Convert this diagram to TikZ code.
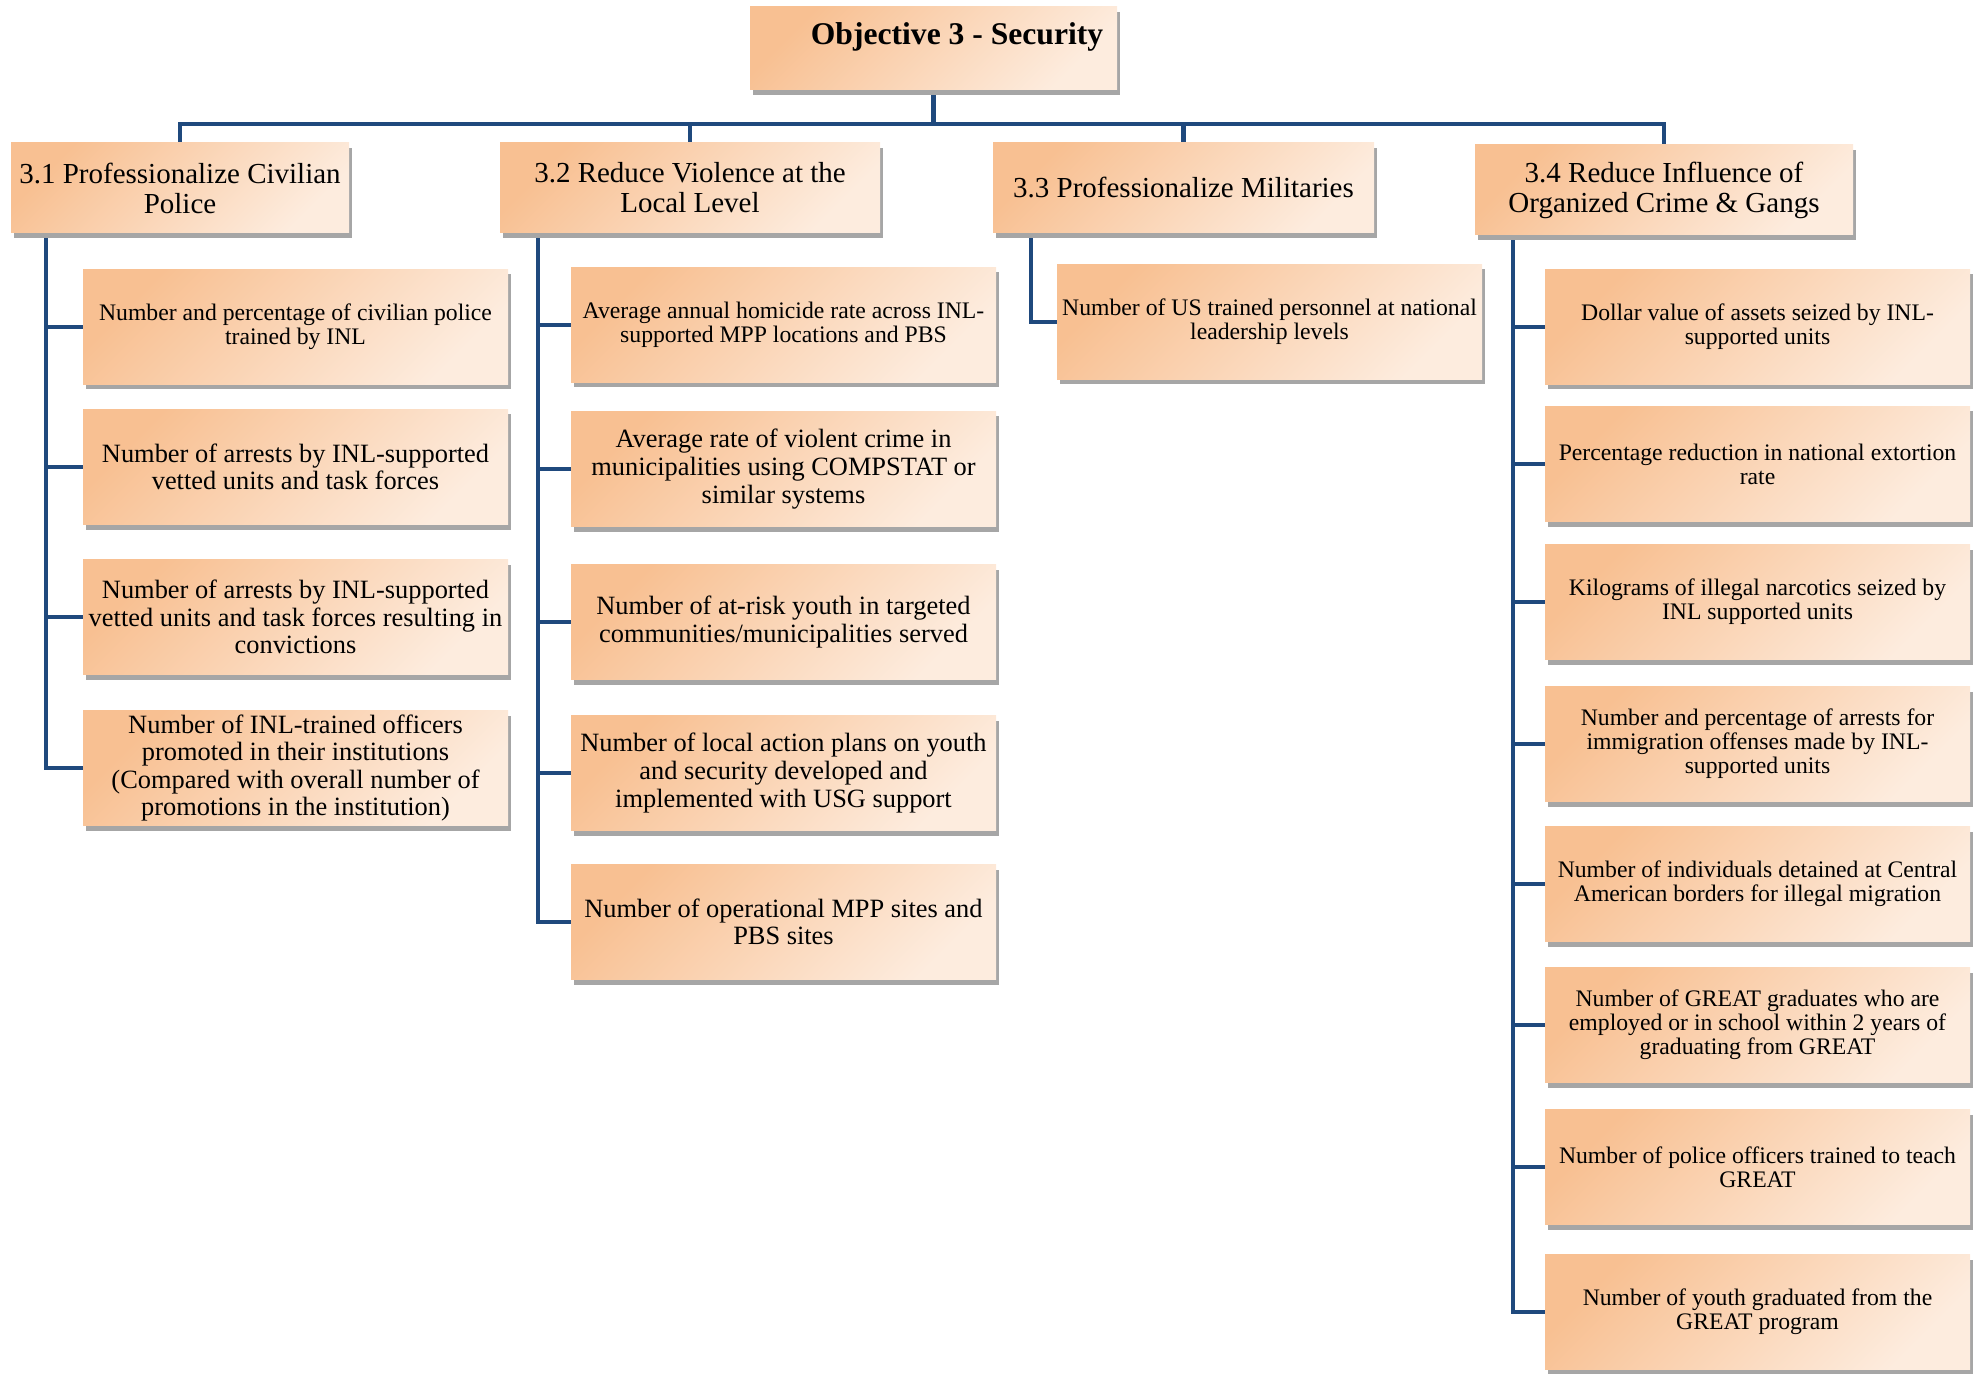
\documentclass[tikz,border=0pt]{standalone}
\usepackage{fontspec}
\setmainfont{Liberation Serif}
\usetikzlibrary{shadows,backgrounds}
\definecolor{boxA}{RGB}{248,192,146}
\definecolor{boxB}{RGB}{253,236,222}
\definecolor{linec}{RGB}{31,73,125}
\begin{document}
\begin{tikzpicture}[x=0.5pt,y=-0.5pt,
  box/.style={top color=boxA,bottom color=boxB,shading angle=45,draw=none,inner sep=0pt,align=center,
    drop shadow={shadow xshift=1.5pt,shadow yshift=-2.5pt,fill=black!35,opacity=1}},
  lvl/.style={box,minimum height=45pt,font=\fontsize{14.5}{15}\selectfont},
  kid/.style={box,minimum width=212.5pt,minimum height=57.5pt},
  small/.style={font=\fontsize{11.85}{12}\selectfont},
  large/.style={font=\fontsize{13.2}{13.8}\selectfont},
  conn/.style={draw=linec,line width=2.25pt,line join=miter}]
\useasboundingbox (0,0) rectangle (1980,1374);

% top
\node[box,minimum width=183.5pt,minimum height=41.5pt] (top) at (933.5,48.5) {};
\node[anchor=base,font=\fontsize{15.8}{18}\selectfont\bfseries] (toptext) at (957,45) {Objective 3 - Security};

% level 2
\node[lvl,minimum width=169pt] (a) at (180,188) {3.1 Professionalize Civilian\\Police};
\node[lvl,minimum width=190pt] (b) at (690,188) {3.2 Reduce Violence at the\\Local Level};
\node[lvl,minimum width=190.5pt] (c) at (1183.5,188) {3.3 Professionalize Militaries};
\node[lvl,minimum width=189pt] (d) at (1664,190) {3.4 Reduce Influence of\\Organized Crime \& Gangs};

% column 1
\node[kid,small] (a1) at (295.5,327) {Number and percentage of civilian police\\trained by INL};
\node[kid,large] (a2) at (295.5,467) {Number of arrests by INL-supported\\vetted units and task forces};
\node[kid,large] (a3) at (295.5,617) {Number of arrests by INL-supported\\vetted units and task forces resulting in\\convictions};
\node[kid,large] (a4) at (295.5,768) {Number of INL-trained officers\\promoted in their institutions\\(Compared with overall number of\\promotions in the institution)};

% column 2
\node[kid,small] (b1) at (783.5,325) {Average annual homicide rate across INL-\\supported MPP locations and PBS};
\node[kid,large] (b2) at (783.5,469) {Average rate of violent crime in\\municipalities using COMPSTAT or\\similar systems};
\node[kid,large] (b3) at (783.5,622) {Number of at-risk youth in targeted\\communities/municipalities served};
\node[kid,large] (b4) at (783.5,773) {Number of local action plans on youth\\and security developed and\\implemented with USG support};
\node[kid,large] (b5) at (783.5,922) {Number of operational MPP sites and\\PBS sites};

% column 3
\node[kid,small] (c1) at (1269.5,322) {Number of US trained personnel at national\\leadership levels};

% column 4
\node[kid,small] (d1) at (1757.5,327) {Dollar value of assets seized by INL-\\supported units};
\node[kid,small] (d2) at (1757.5,464) {Percentage reduction in national extortion\\rate};
\node[kid,small] (d3) at (1757.5,602) {Kilograms of illegal narcotics seized by\\INL supported units};
\node[kid,small] (d4) at (1757.5,744) {Number and percentage of arrests for\\immigration offenses made by INL-\\supported units};
\node[kid,small] (d5) at (1757.5,884) {Number of individuals detained at Central\\American borders for illegal migration};
\node[kid,small] (d6) at (1757.5,1025) {Number of GREAT graduates who are\\employed or in school within 2 years of\\graduating from GREAT};
\node[kid,small] (d7) at (1757.5,1167) {Number of police officers trained to teach\\GREAT};
\node[kid,small] (d8) at (1757.5,1312) {Number of youth graduated from the\\GREAT program};

\coordinate (bus) at (933,124);
\coordinate (va) at (46,0);
\coordinate (vb) at (538,0);
\coordinate (vc) at (1031,0);
\coordinate (vd) at (1513,0);

\begin{scope}[on background layer]
\foreach \p in {a,b,c,d}{\draw[conn] (top.south) -- (top.south|-bus) -| (\p.north);}
\foreach \k in {1,2,3,4}{\draw[conn] (va|-a.south) |- (a\k.west);}
\foreach \k in {1,2,3,4,5}{\draw[conn] (vb|-b.south) |- (b\k.west);}
\draw[conn] (vc|-c.south) |- (c1.west);
\foreach \k in {1,...,8}{\draw[conn] (vd|-d.south) |- (d\k.west);}
\end{scope}
\end{tikzpicture}
\end{document}
